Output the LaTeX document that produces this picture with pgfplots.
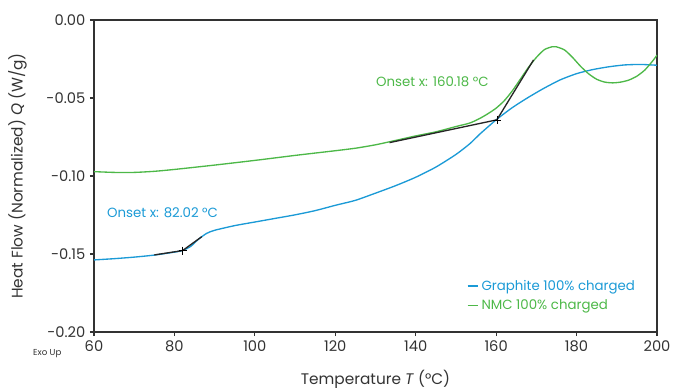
\documentclass[border=0pt]{standalone}
\usepackage{pgfplots}
\pgfplotsset{compat=1.18}
\usepackage{fontspec}
\setmainfont{Poppins}
\definecolor{gblue}{RGB}{27,154,214}
\definecolor{ggreen}{RGB}{77,184,72}
\definecolor{axgray}{RGB}{50,50,50}
\begin{document}
\begin{tikzpicture}
\begin{axis}[
  scale only axis, width=422.25pt, height=234pt,
  at={(0,0)}, anchor=south west,
  xmin=60, xmax=200, ymin=-0.20, ymax=0,
  xtick={60,80,...,200}, ytick={-0.20,-0.15,-0.10,-0.05,0},
  yticklabel style={/pgf/number format/.cd, fixed, fixed zerofill, precision=2},
  /pgf/number format/assume math mode=true,
  tick align=outside, tick pos=left, major tick length=3pt,
  axis line style={axgray, line width=1pt},
  every tick/.style={axgray, line width=0.8pt},
  ticklabel style={font=\fontsize{11}{13}\selectfont, text=black!80},
  xlabel={Temperature \textit{T} (°C)},
  ylabel={Heat Flow (Normalized) \textit{Q} (W/g)},
  label style={font=\fontsize{11.5}{13}\selectfont, text=black!80},
  xlabel style={yshift=-7pt},
  ylabel style={yshift=8pt},
  legend style={draw=none, fill=none, at={(0.655,0.185)}, anchor=north west,
    font=\fontsize{10}{12}\selectfont, row sep=1.5pt},
  legend cell align=left,
  legend image code/.code={\draw[#1, line width=0.9pt] (0cm,0cm) -- (0.28cm,0cm);},
  clip=true,
]
\addplot[gblue, line width=1pt, smooth, tension=0.4] coordinates {
(60,-0.1538)(65,-0.1530)(70,-0.1520)(75,-0.1507)(80,-0.1488)(82,-0.1478)
(84,-0.1452)(86,-0.1405)(88,-0.1368)(90,-0.1348)(95,-0.1318)(100,-0.1295)
(105,-0.1272)(110,-0.1249)(115,-0.1222)(120,-0.1188)(125,-0.1156)(130,-0.1110)
(135,-0.1062)(140,-0.1008)(145,-0.0943)(150,-0.0862)(153.5,-0.0792)(156,-0.0730)
(160,-0.0640)(164,-0.0562)(168,-0.0496)(172,-0.0436)(176,-0.0383)(180,-0.0344)
(184,-0.0318)(188,-0.0300)(192,-0.0288)(196,-0.0285)(200,-0.0290)
};
\addlegendentry{\textcolor{gblue}{Graphite 100\% charged}}
\addplot[ggreen, line width=1pt, smooth, tension=0.4] coordinates {
(60,-0.0972)(65,-0.0977)(70,-0.0977)(75,-0.0970)(80,-0.0958)(90,-0.0930)
(100,-0.0900)(110,-0.0868)(120,-0.0838)(125,-0.0822)(130,-0.0800)(135,-0.0772)
(140,-0.0743)(145,-0.0717)(150,-0.0683)(153.5,-0.0660)(156,-0.0630)(158,-0.0600)
(160,-0.0565)(162,-0.0518)(164,-0.0455)(166,-0.0380)(168,-0.0305)(170,-0.0240)
(172,-0.0190)(174,-0.0171)(175,-0.0172)(177,-0.0192)(179,-0.0240)(181,-0.0297)
(183,-0.0345)(185,-0.0380)(187,-0.0398)(189,-0.0403)(191,-0.0398)(193,-0.0385)
(195,-0.0360)(197,-0.0320)(199,-0.0260)(200,-0.0225)
};
\addlegendentry{\textcolor{ggreen}{NMC 100\% charged}}
\addplot[black!85, line width=1pt, forget plot] coordinates {(75,-0.1506)(82.02,-0.1478)(86.8,-0.1389)};
\addplot[black!85, line width=1pt, forget plot] coordinates {(133.5,-0.0786)(160.18,-0.0640)(169.3,-0.0256)};
\addplot[black, only marks, mark=+, mark size=3pt, forget plot] coordinates {(82.02,-0.1478)(160.18,-0.0640)};
\node[anchor=west, text=gblue, font=\fontsize{10}{12}\selectfont, inner sep=0pt] at (axis cs:63.2,-0.1237) {Onset x: 82.02 °C};
\node[anchor=west, text=ggreen, font=\fontsize{10}{12}\selectfont, inner sep=0pt] at (axis cs:130.1,-0.0397) {Onset x: 160.18 °C};
\end{axis}
\node[anchor=center, font=\fontsize{6.5}{8}\selectfont, text=black!80] at (-35pt,-16.5pt) {Exo Up};
\pgfresetboundingbox
\path (-70.5pt,-42pt) rectangle (434.25pt,249pt);
\end{tikzpicture}
\end{document}
